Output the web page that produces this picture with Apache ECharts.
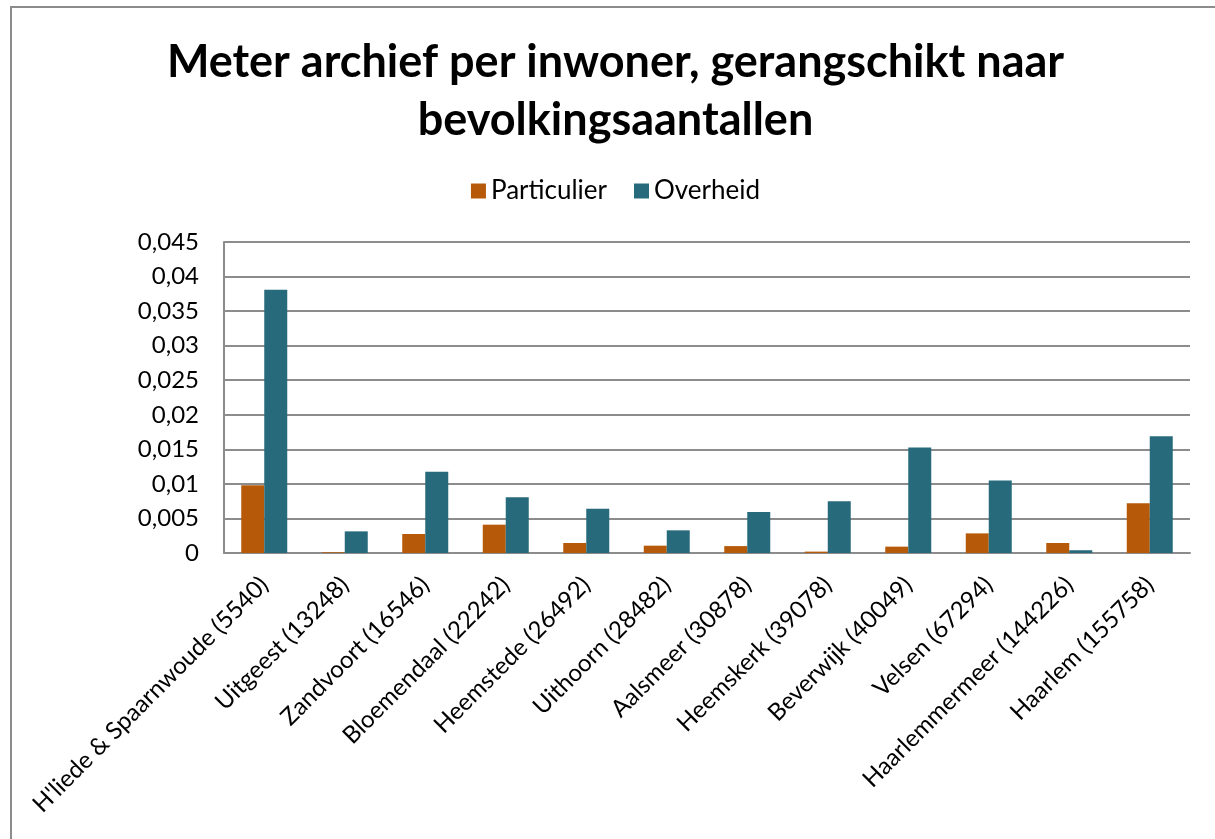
<!DOCTYPE html>
<html>
<head>
<meta charset="utf-8">
<script src="https://cdn.jsdelivr.net/npm/echarts@6/dist/echarts.min.js"></script>
<style>
  html, body { margin: 0; padding: 0; background: #fff; overflow: hidden; }
  #chart { position: absolute; left: 8px; top: 0; width: 1215px; height: 839px; }
  #frame {
    position: absolute; left: 10px; top: 6px; width: 1250px; height: 900px;
    border-left: 2px solid #8c8c8c; border-top: 2px solid #8c8c8c;
    pointer-events: none;
  }
</style>
</head>
<body>
<div id="chart"></div>
<div id="frame"></div>
<script>
// gemeenten, gerangschikt naar inwoneraantal
const categories = [
  "H'liede & Spaarnwoude (5540)", 'Uitgeest (13248)', 'Zandvoort (16546)',
  'Bloemendaal (22242)', 'Heemstede (26492)', 'Uithoorn (28482)',
  'Aalsmeer (30878)', 'Heemskerk (39078)', 'Beverwijk (40049)',
  'Velsen (67294)', 'Haarlemmermeer (144226)', 'Haarlem (155758)'
]
const particulier = [0.0098, 0.0001, 0.00275, 0.0041, 0.00145, 0.00106, 0.001, 0.0002, 0.00092, 0.00284, 0.00145, 0.0072]
const overheid = [0.0381, 0.00313, 0.01176, 0.00805, 0.00641, 0.00328, 0.00593, 0.00747, 0.01528, 0.0105, 0.0004, 0.01688]

const font = 'Lato, "Open Sans", sans-serif'
const myChart = echarts.init(document.getElementById('chart'))
myChart.setOption({
  textStyle: { fontFamily: font },
  title: {
    text: 'Meter archief per inwoner, gerangschikt naar\nbevolkingsaantallen',
    left: 'center',
    top: 28,
    textStyle: {
      fontFamily: font,
      fontSize: 45,
      fontWeight: 'bold',
      lineHeight: 58,
      color: '#000'
    }
  },
  legend: {
    top: 173,
    left: 'center',
    itemWidth: 15,
    itemHeight: 15,
    itemGap: 27,
    icon: 'rect',
    textStyle: { fontFamily: font, fontSize: 26, color: '#000' },
    data: ['Particulier', 'Overheid']
  },
  grid: {
    left: 216,
    right: 33,
    top: 242,
    bottom: 286
  },
  xAxis: {
    type: 'category',
    data: categories,
    axisLine: { lineStyle: { color: '#8c8c8c', width: 2 } },
    axisTick: { show: false },
    axisLabel: {
      interval: 0,
      rotate: 45,
      margin: 28,
      fontFamily: font,
      fontSize: 24,
      color: '#000'
    }
  },
  yAxis: {
    type: 'value',
    min: 0,
    max: 0.045,
    interval: 0.005,
    axisLine: { show: true, lineStyle: { color: '#8c8c8c', width: 2 } },
    axisTick: { show: false },
    splitLine: { lineStyle: { color: '#8c8c8c', width: 2 } },
    axisLabel: {
      margin: 25,
      fontFamily: font,
      fontSize: 24,
      color: '#000',
      formatter: function(v) {
        return String(+v.toFixed(3)).replace('.', ',')
      }
    }
  },
  series: [
    {
      name: 'Particulier',
      type: 'bar',
      data: particulier,
      barWidth: 23,
      barGap: '0%',
      itemStyle: { color: '#b65a0a' }
    },
    {
      name: 'Overheid',
      type: 'bar',
      data: overheid,
      barWidth: 23,
      barGap: '0%',
      itemStyle: { color: '#276a7b' }
    }
  ]
})
window.addEventListener('resize', function() {
  myChart.resize()
})
</script>
</body>
</html>
